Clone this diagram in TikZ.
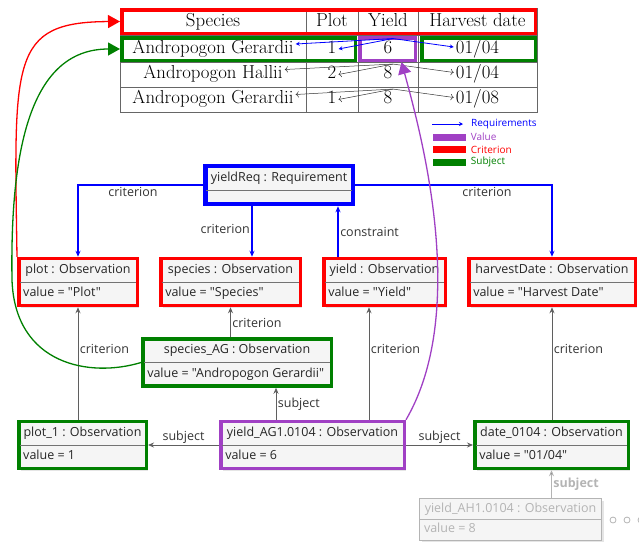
\documentclass[tikz,border=0pt]{standalone}
\usepackage{fontspec}
\newfontfamily\umlfont{Open Sans}
\usetikzlibrary{arrows.meta,shapes.multipart,shadows,positioning}

\definecolor{critred}{RGB}{255,0,0}
\definecolor{subjgreen}{RGB}{0,128,0}
\definecolor{valpurple}{RGB}{160,64,196}
\definecolor{reqblue}{RGB}{0,0,255}
\definecolor{linkgray}{RGB}{95,95,95}
\definecolor{boxfill}{RGB}{245,245,245}
\definecolor{fadegray}{RGB}{180,180,180}

\begin{document}
\begin{tikzpicture}[
        x=1pt, y=-1pt,
        cell/.style={font=\fontsize{18.8}{22}\selectfont, text height=12.5pt, text depth=4pt, inner sep=2pt},
        grid/.style={draw=black!60, line width=0.6pt},
        hlbox/.style={draw, line width=3.5pt, inner sep=0pt, minimum height=22.5pt},
        obs/.style={rectangle split, rectangle split parts=2, rectangle split part align={center,left},
            rectangle split draw splits=false, draw, line width=3.5pt, fill=boxfill,
            inner xsep=4.5pt, inner ysep=2.5pt, text=black!85,
            font=\fontsize{12.5}{15}\selectfont\umlfont\strut,
            drop shadow={fill=black!20, shadow xshift=2pt, shadow yshift=-2pt}},
        divider/.style={draw=black!55, line width=0.7pt, shorten <=3pt, shorten >=3pt},
        lbl/.style={font=\fontsize{12.5}{15}\selectfont\umlfont, text=black!80, inner sep=1.5pt},
        reqlink/.style={draw=reqblue, line width=1.5pt, -{Stealth[length=6pt,width=5pt]}},
        link/.style={draw=linkgray, line width=0.8pt, -{Stealth[length=6pt,width=5pt]}},
        bigarrow/.style={line width=1.3pt, -{Triangle[length=12pt,width=13pt]}},
        bluerow/.style={draw=reqblue, line width=0.8pt, -{Stealth[length=4pt,width=4pt]}},
        rowlink/.style={draw=black!80, line width=0.5pt, -{To[length=3pt]}},
        leg/.style={font=\fontsize{10}{12}\selectfont\umlfont, inner sep=1pt, anchor=west},
        legbar/.style={minimum width=33pt, minimum height=7pt, inner sep=0pt}
    ]
    \useasboundingbox (0,0) rectangle (639,542);

    % table
    \draw[grid] (120,8) rectangle (537,112);
    \foreach \y in {35,62,87} \draw[grid] (120,\y) -- (537,\y);
    \foreach \x in {306,358,418} \draw[grid] (\x,8) -- (\x,112);

    \node[cell] (hsp) at (213,22.5) {Species};
    \node[cell] (hpl) at (332,22.5) {Plot};
    \node[cell] (hyi) at (388,22.5) {Yield};
    \node[cell] (hha) at (477.5,22.5) {Harvest date};
    \foreach \r/\y/\s/\p/\v/\d in {1/49/{Andropogon Gerardii}/1/6/{01/04},
                                   2/74.5/{Andropogon Hallii}/2/8/{01/04},
                                   3/99.5/{Andropogon Gerardii}/1/8/{01/08}} {
        \node[cell] (sp\r) at (213,\y) {\s};
        \node[cell] (pl\r) at (332,\y) {\p};
        \node[cell] (yi\r) at (388,\y) {\v};
        \node[cell] (ha\r) at (477.5,\y) {\d};
    }

    % highlighted cells
    \node[hlbox, draw=critred, minimum width=413.5pt, minimum height=23.5pt] (hdr) at (328.5,21.5) {};
    \node[hlbox, draw=subjgreen, minimum width=233.5pt] (row1) at (238.5,49) {};
    \node[hlbox, draw=subjgreen, minimum width=113.5pt] (dcell) at (478.5,49) {};
    \node[hlbox, draw=valpurple, minimum width=55.5pt] (ycell) at (387.5,49) {};

    % links inside the rows
    \draw[bluerow] ([xshift=5pt]yi1.north) -- ([yshift=5pt]sp1.east);
    \draw[bluerow] ([xshift=5pt]yi1.north) -- (pl1.east);
    \draw[bluerow] ([xshift=5pt]yi1.north) -- ([yshift=2pt]ha1.west);
    \foreach \r in {2,3} {
        \draw[rowlink] ([xshift=5pt]yi\r.north) -- ([yshift=5pt]sp\r.east);
        \draw[rowlink] ([xshift=5pt]yi\r.north) -- (pl\r.east);
        \draw[rowlink] ([xshift=5pt]yi\r.north) -- ([yshift=2pt]ha\r.west);
    }

    % legend
    \coordinate (legA) at (432,124);
    \node[leg, text=reqblue] (legReq) at (470,124) {Requirements};
    \draw[bluerow] (legA) -- ([xshift=-7pt]legReq.west);
    \node[legbar, fill=valpurple] (barV) at (449,137) {};
    \node[leg, text=valpurple, right=4pt of barV] (legV) {Value};
    \node[legbar, fill=critred] (barC) at (449,149.5) {};
    \node[leg, text=critred, right=4pt of barC] (legC) {Criterion};
    \node[legbar, fill=subjgreen] (barS) at (449,162) {};
    \node[leg, text=subjgreen, right=4pt of barS] (legS) {Subject};

    % observations
    \node[obs, draw=reqblue, line width=4.5pt, minimum width=147.5pt, font=\fontsize{12.5}{15}\selectfont\umlfont] (req) at (279,185)
        {\strut yieldReq : Requirement\nodepart{two}\rule{0pt}{4pt}};
    \node[obs, draw=critred, minimum width=118.5pt] (plot) at (78,282) {plot : Observation\nodepart{two}value = "Plot"};
    \node[obs, draw=critred, minimum width=139.5pt] (species) at (230.5,282) {species : Observation\nodepart{two}value = "Species"};
    \node[obs, draw=critred, minimum width=121.5pt] (yield) at (384.5,282) {yield : Observation\nodepart{two}value = "Yield"};
    \node[obs, draw=critred, minimum width=166.5pt] (harvest) at (552,282) {harvestDate : Observation\nodepart{two}value = "Harvest Date"};
    \node[obs, draw=subjgreen, minimum width=188.5pt] (speciesAG) at (237,362.5) {species\_AG : Observation\nodepart{two}value = "Andropogon Gerardii"};
    \node[obs, draw=subjgreen, minimum width=127.5pt] (plotOne) at (82.5,445) {plot\_1 : Observation\nodepart{two}value = 1};
    \node[obs, draw=valpurple, minimum width=183.5pt] (yieldAG) at (312.5,445) {yield\_AG1.0104 : Observation\nodepart{two}value = 6};
    \node[obs, draw=subjgreen, minimum width=153.5pt] (dateOne) at (551.5,445) {date\_0104 : Observation\nodepart{two}value = "01/04"};
    \node[obs, draw=fadegray, line width=0.8pt, text=fadegray, minimum width=182pt] (yieldAH) at (510.5,519.5) {yield\_AH1.0104 : Observation\nodepart{two}value = 8};

    \foreach \b in {req,plot,species,yield,harvest,speciesAG,plotOne,yieldAG,dateOne}
        \draw[divider] (\b.text split west) -- (\b.text split east);
    \draw[divider, draw=fadegray, shorten <=0.8pt, shorten >=0.8pt] (yieldAH.text split west) -- (yieldAH.text split east);

    % requirement links
    \draw[reqlink] (req.west) -| node[lbl, below, pos=0.28] {criterion} (plot.north);
    \draw[reqlink] (req.east) -| node[lbl, below, pos=0.335] {criterion} (harvest.north);
    \draw[reqlink] ([xshift=-27pt]req.south) -- node[lbl, left, pos=0.45] {criterion} ([xshift=-27pt]req.south |- species.north);
    \draw[reqlink] ([xshift=-46.5pt]yield.north) -- node[lbl, right, pos=0.5] {constraint} ([xshift=-46.5pt]yield.north |- req.south);

    % observation links
    \draw[link] (plotOne.north -| plot.south) -- node[lbl, right, pos=0.63] {criterion} (plot.south);
    \draw[link] (speciesAG.north -| species.south) -- node[lbl, right, pos=0.46] {criterion} (species.south);
    \draw[link] ([xshift=-36.5pt]yieldAG.north) -- node[lbl, right, pos=0.49] {subject} ([xshift=-36.5pt]yieldAG.north |- speciesAG.south);
    \draw[link] ([xshift=56.5pt]yieldAG.north) -- node[lbl, right, pos=0.63] {criterion} ([xshift=56.5pt]yieldAG.north |- yield.south);
    \draw[link] (yieldAG.west) -- node[lbl, above] {subject} (plotOne.east);
    \draw[link] (yieldAG.east) -- node[lbl, above] {subject} (dateOne.west);
    \draw[link] (dateOne.north -| harvest.south) -- node[lbl, right, pos=0.63] {criterion} (harvest.south);
    \draw[link, draw=fadegray] (yieldAH.north -| dateOne.south) -- node[lbl, right, text=fadegray, font=\fontsize{12.5}{15}\selectfont\umlfont\bfseries] {subject} (dateOne.south);
    \foreach \i in {0,1,2} \draw[fadegray, line width=0.8pt] (613+14*\i,520) circle (3pt);

    % back to the table
    \draw[bigarrow, critred] (plot.north west) .. controls (14,60) and (10,22) .. (hdr.west);
    \draw[bigarrow, subjgreen] (speciesAG.west) .. controls (90,378) and (15,365) .. (12,280) .. controls (10,150) and (30,49) .. (row1.west);
    \draw[bigarrow, valpurple] (yieldAG.north east) .. controls (470,310) and (420,130) .. ([xshift=14pt]ycell.south);
\end{tikzpicture}
\end{document}
